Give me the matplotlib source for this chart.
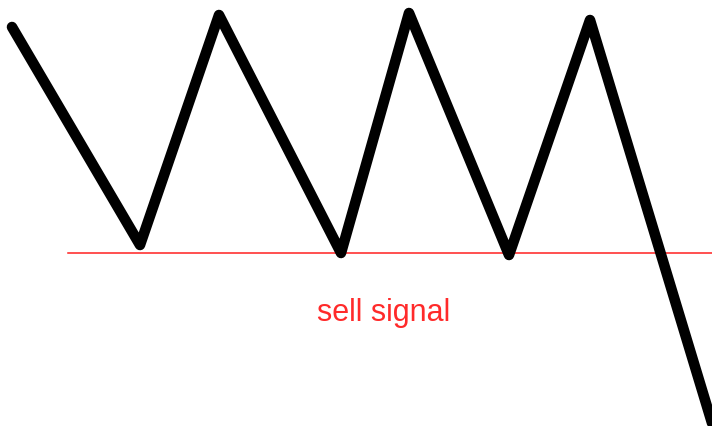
import matplotlib.pyplot as plt

# price path, in picture units (y grows downward)
price_x = [12, 140, 219, 341, 409, 509, 590, 712]
price_y = [28, 246, 16, 254, 14, 256, 21, 424]

# support level and its label
support_y = 254
support_x = [68, 712]
label = "sell signal"

fig = plt.figure(figsize=(7.12, 4.27), dpi=100)
ax = fig.add_axes([0, 0, 1, 1])
ax.set_xlim(0, 712)
ax.set_ylim(427, 0)
ax.axis("off")

ax.plot(support_x, [support_y, support_y], color="#ff2020", lw=1.1, zorder=1)
ax.plot(price_x, price_y, color="black", lw=7.6,
        solid_joinstyle="round", solid_capstyle="round", zorder=2)
ax.text(384, 313, label, color="#ff2a2a", fontsize=22,
        family="Liberation Sans", ha="center", va="center")

fig.savefig("out.png", dpi=100)
